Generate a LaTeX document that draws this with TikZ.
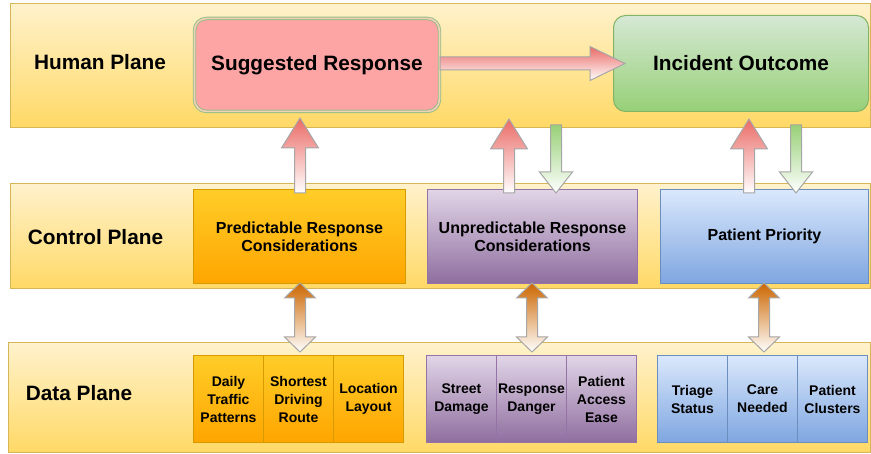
\documentclass[tikz,border=0pt]{standalone}
\usepackage{fontspec}
\setmainfont{Liberation Sans}
\usetikzlibrary{calc}
\definecolor{bandA}{HTML}{FFF2CC}
\definecolor{bandB}{HTML}{FFD966}
\definecolor{bandL}{HTML}{D6B656}
\definecolor{orA}{HTML}{FFCD28}
\definecolor{orB}{HTML}{FFA500}
\definecolor{orL}{HTML}{D79B00}
\definecolor{puA}{HTML}{E1D5E7}
\definecolor{puB}{HTML}{8F6E9F}
\definecolor{puL}{HTML}{9673A6}
\definecolor{blA}{HTML}{DAE8FC}
\definecolor{blB}{HTML}{7EA6E0}
\definecolor{blL}{HTML}{6C8EBF}
\definecolor{grA}{HTML}{D5E8D4}
\definecolor{grB}{HTML}{97D077}
\definecolor{grL}{HTML}{82B366}
\definecolor{pinkF}{HTML}{FDA5A5}
\definecolor{pinkL}{HTML}{96BC84}
\definecolor{pinkD}{HTML}{EFD3B8}
\definecolor{arrRed}{HTML}{EA6B66}
\definecolor{arrGreen}{HTML}{97D077}
\definecolor{arrOrange}{HTML}{CC6600}
\definecolor{arrLine}{HTML}{A6A6A6}
\tikzset{
  band/.style={draw=bandL, line width=1pt, top color=bandA, bottom color=bandB, rectangle, anchor=north west, inner sep=0pt},
  planelabel/.style={font=\bfseries\fontsize{20.8}{24}\selectfont, inner sep=0pt},
  ctrlbox/.style={rectangle, anchor=north west, inner sep=0pt, line width=1pt, minimum height=94pt, align=center, font=\bfseries\fontsize{16}{18}\selectfont},
  cell/.style={rectangle, anchor=north west, inner sep=0pt, line width=1pt, minimum height=87pt, minimum width=70pt, align=center, font=\bfseries\fontsize{14}{18}\selectfont},
  orangefill/.style={draw=orL, top color=orA, bottom color=orB},
  purplefill/.style={draw=puL, top color=puA, bottom color=puB},
  bluefill/.style={draw=blL, top color=blA, bottom color=blB},
  blockarrow/.style={draw=arrLine, line width=1pt, line join=miter},
}
\newcommand{\blkvert}[5]{% start, tip, colour, half head width, head length (signed)
  \path[blockarrow, top color=#3, bottom color=white]
    ($(#1)+(-5.5,0)$) -- ($(#2)+(-5.5,#5)$) -- ($(#2)+(-#4,#5)$) -- (#2)
    -- ($(#2)+(#4,#5)$) -- ($(#2)+(5.5,#5)$) -- ($(#1)+(5.5,0)$) -- cycle;}
\newcommand{\blkdouble}[2]{% top tip, bottom tip
  \path[blockarrow, top color=arrOrange, bottom color=white]
    (#1) -- ($(#1)+(15.5,15)$) -- ($(#1)+(5.5,15)$) -- ($(#2)+(5.5,-15)$)
    -- ($(#2)+(15.5,-15)$) -- (#2) -- ($(#2)+(-15.5,-15)$) -- ($(#2)+(-5.5,-15)$)
    -- ($(#1)+(-5.5,15)$) -- ($(#1)+(-15.5,15)$) -- cycle;}
\begin{document}
\begin{tikzpicture}[x=1pt,y=-1pt]
\useasboundingbox (0,0) rectangle (871,454);
% bands
\node[band, minimum width=859.5pt, minimum height=124pt] (humanband) at (10,3) {};
\node[band, minimum width=859.5pt, minimum height=105pt] (controlband) at (10,183) {};
\node[band, minimum width=861.5pt, minimum height=110pt] (databand) at (8,342) {};
% plane labels
\node[planelabel] (humanlbl) at (100,62) {Human Plane};
\node[planelabel] (controllbl) at (95.5,237) {Control Plane};
\node[planelabel] (datalbl) at (79,393) {Data Plane};
% human plane boxes
\node[rectangle, rounded corners=12pt, anchor=north west, draw=pinkL, double=pinkD, double distance=1.6pt, line width=0.9pt, fill=pinkF,
      minimum width=245pt, minimum height=93pt, inner sep=0pt, font=\bfseries\fontsize{20.8}{24}\selectfont] (sugg) at (194,18) {Suggested Response};
\node[rectangle, rounded corners=12pt, anchor=north west, draw=grL, line width=1pt, top color=grA, bottom color=grB,
      minimum width=255pt, minimum height=96pt, inner sep=0pt, font=\bfseries\fontsize{20.8}{24}\selectfont] (outcome) at (613,15) {Incident Outcome};
% control plane boxes
\node[ctrlbox, orangefill, minimum width=212pt] (pred) at (193,189) {Predictable Response\\Considerations};
\node[ctrlbox, purplefill, minimum width=210pt] (unpred) at (427,189) {Unpredictable Response\\Considerations};
\node[ctrlbox, bluefill, minimum width=208pt] (prio) at (660,189) {Patient Priority};
% data plane cells
\node[cell, orangefill] (daily) at (193,355) {Daily\\Traffic\\Patterns};
\node[cell, orangefill] (shortest) at (263,355) {Shortest\\Driving\\Route};
\node[cell, orangefill] (location) at (333,355) {Location\\Layout};
\node[cell, purplefill] (street) at (426,355) {Street\\Damage};
\node[cell, purplefill] (danger) at (496,355) {Response\\Danger};
\node[cell, purplefill] (access) at (566,355) {Patient\\Access\\Ease};
\node[cell, bluefill] (triage) at (657,355) {Triage\\Status};
\node[cell, bluefill] (care) at (727,355) {Care\\Needed};
\node[cell, bluefill] (clusters) at (797,355) {Patient\\Clusters};
% connector end points
\coordinate (hS) at (440,63.5);
\coordinate (hT) at (625,63.5);
\coordinate (r1S) at (300,193);
\coordinate (r1T) at (300,118);
\coordinate (r2S) at (509,193);
\coordinate (r2T) at (509,119);
\coordinate (g1S) at (556,125);
\coordinate (g1T) at (556,193);
\coordinate (r3S) at (749,193);
\coordinate (r3T) at (749,119);
\coordinate (g2S) at (796,125);
\coordinate (g2T) at (796,193);
\coordinate (o1T) at (300,283);
\coordinate (o1B) at (300,352);
\coordinate (o2T) at (532,283);
\coordinate (o2B) at (532,352);
\coordinate (o3T) at (764,283);
\coordinate (o3B) at (764,352);
% horizontal arrow
\path[blockarrow, top color=arrRed, bottom color=white]
  ($(hS)+(0,-6.5)$) -- ($(hT)+(-35,-6.5)$) -- ($(hT)+(-35,-17)$) -- (hT)
  -- ($(hT)+(-35,17)$) -- ($(hT)+(-35,6.5)$) -- ($(hS)+(0,6.5)$) -- cycle;
% vertical arrows
\blkvert{r1S}{r1T}{arrRed}{18.5}{30}
\blkvert{r2S}{r2T}{arrRed}{18.5}{30}
\blkvert{r3S}{r3T}{arrRed}{18.5}{30}
\blkvert{g1S}{g1T}{arrGreen}{16.5}{-21}
\blkvert{g2S}{g2T}{arrGreen}{16.5}{-21}
\blkdouble{o1T}{o1B}
\blkdouble{o2T}{o2B}
\blkdouble{o3T}{o3B}
\end{tikzpicture}
\end{document}
